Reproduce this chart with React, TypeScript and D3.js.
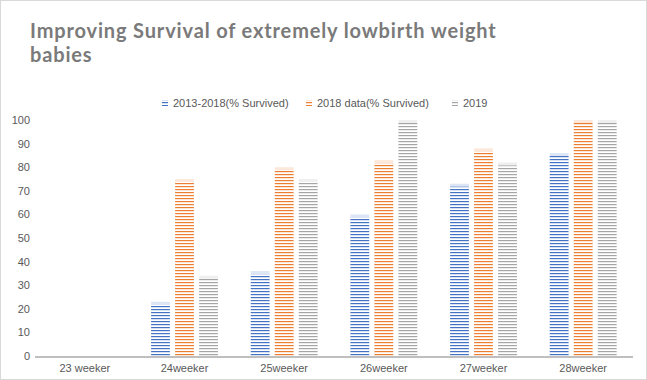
import React from "react";
import * as d3 from "d3";

const categories = ["23 weeker", "24weeker", "25weeker", "26weeker", "27weeker", "28weeker"];
const seriesNames = ["2013-2018(% Survived)", "2018 data(% Survived)", "2019"];
const s2013 = [0, 23, 36, 60, 73, 86];
const s2018 = [0, 75, 80, 83, 88, 100];
const s2019 = [0, 34, 75, 100, 82, 100];
const yTicks = [0, 10, 20, 30, 40, 50, 60, 70, 80, 90, 100];
const colors = ["#4472C4", "#ED7D31", "#A5A5A5"];

const W = 647, H = 380;
const left = 35, right = 633, top = 120, bottom = 356;

export default function App() {
  const series = [s2013, s2018, s2019];
  const x = d3.scaleBand<string>().domain(categories).range([left, right]).paddingInner(0.33).paddingOuter(0.165);
  const xs = d3.scaleBand<number>().domain([0, 1, 2]).range([0, x.bandwidth()]).paddingInner(0.22);
  const y = d3.scaleLinear().domain([0, 100]).range([bottom, top]);
  const legendX = [165, 309, 455];
  return (
    <svg width={W} height={H} style={{ position: "absolute", left: 0, top: 0 }} fontFamily="'Liberation Sans', Arial, sans-serif">
      <defs>
        {colors.map((c, i) => (
          <pattern key={i} id={`p${i}`} patternUnits="userSpaceOnUse" width={6} height={3}>
            <rect width={6} height={3} fill="#fff" />
            <rect y={0} width={6} height={1.2} fill={c} />
          </pattern>
        ))}
      </defs>
      <rect x={0.5} y={0.5} width={W - 1} height={H - 1} fill="#fff" stroke="#d9d9d9" />
      <text x={30} y={38} fontFamily="Lato, sans-serif" fontWeight="bold" fontSize={20} letterSpacing={0.85} fill="#7a7a7a">
        Improving Survival of extremely lowbirth weight
      </text>
      <text x={30} y={62} fontFamily="Lato, sans-serif" fontWeight="bold" fontSize={20} letterSpacing={0.85} fill="#7a7a7a">
        babies
      </text>
      {seriesNames.map((n, i) => (
        <g key={n}>
          <rect x={legendX[i] - 3} y={100} width={6} height={6} fill={`url(#p${i})`} />
          <text x={legendX[i] + 8} y={107} fontSize={11} fill="#595959">{n}</text>
        </g>
      ))}
      {yTicks.map((t) => (
        <text key={t} x={30} y={y(t) + 4} textAnchor="end" fontSize={11} fill="#595959">{t}</text>
      ))}
      {categories.map((c, ci) => (
        <g key={c}>
          {series.map((s, si) => {
            const v = s[ci];
            if (!v) return null;
            const bx = (x(c) as number) + (xs(si) as number);
            return (
              <g key={si}>
                <rect x={bx} y={y(v)} width={xs.bandwidth()} height={bottom - y(v)} fill={colors[si]} opacity={0.18} />
                <rect x={bx} y={y(v) + 3} width={xs.bandwidth()} height={bottom - y(v) - 3} fill={`url(#p${si})`} />
              </g>
            );
          })}
          <text x={(x(c) as number) + x.bandwidth() / 2} y={372} textAnchor="middle" fontSize={11} fill="#595959">{c}</text>
        </g>
      ))}
      <line x1={left} x2={right} y1={bottom + 1} y2={bottom + 1} stroke="#bfbfbf" strokeWidth={2} />
    </svg>
  );
}
